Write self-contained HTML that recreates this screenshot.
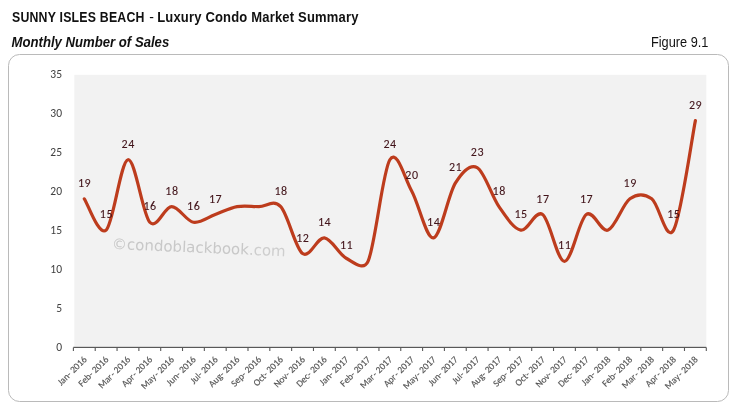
<!DOCTYPE html>
<html><head><meta charset="utf-8"><style>
html,body{margin:0;padding:0;background:#fff;width:738px;height:409px;overflow:hidden}
svg{display:block}
.t{font-family:"Liberation Sans",Arial,sans-serif;fill:#111}
.c{font-family:Carlito,"Liberation Sans",sans-serif;font-kerning:none}
</style></head><body>
<svg width="738" height="409" viewBox="0 0 738 409">
<text class="t" x="0" y="0" transform="translate(12.0 22) scale(0.88 1)" font-size="14" font-weight="bold" textLength="150.5" lengthAdjust="spacing">SUNNY ISLES BEACH</text>
<text class="t" x="149.2" y="22" font-size="14">-</text>
<text class="t" x="0" y="0" transform="translate(157.2 22) scale(0.93 1)" font-size="14" font-weight="bold" textLength="216.4" lengthAdjust="spacing">Luxury Condo Market Summary</text>
<text class="t" x="0" y="0" transform="translate(11.6 47) scale(0.94 1)" font-size="14" font-weight="bold" font-style="italic" textLength="167.7" lengthAdjust="spacing">Monthly Number of Sales</text>
<text class="t" x="0" y="0" transform="translate(651 47) scale(0.9 1)" font-size="14.2" textLength="63.8" lengthAdjust="spacing">Figure 9.1</text>
<rect x="8.5" y="54.5" width="720" height="347" rx="11" ry="11" fill="#fff" stroke="#bababa" stroke-width="1"/>
<rect x="74.3" y="74.8" width="632" height="271.2" fill="#f2f2f2"/>

<text class="c" x="62" y="351.2" font-size="11.5" fill="#404040" text-anchor="end">0</text>
<text class="c" x="62" y="312.1" font-size="11.5" fill="#404040" text-anchor="end">5</text>
<text class="c" x="62" y="273.0" font-size="11.5" fill="#404040" text-anchor="end">10</text>
<text class="c" x="62" y="233.9" font-size="11.5" fill="#404040" text-anchor="end">15</text>
<text class="c" x="62" y="194.8" font-size="11.5" fill="#404040" text-anchor="end">20</text>
<text class="c" x="62" y="155.7" font-size="11.5" fill="#404040" text-anchor="end">25</text>
<text class="c" x="62" y="116.6" font-size="11.5" fill="#404040" text-anchor="end">30</text>
<text class="c" x="62" y="77.5" font-size="11.5" fill="#404040" text-anchor="end">35</text>
<text x="111.8" y="249" font-family="DejaVu Sans,Verdana,sans-serif" font-size="15" fill="#c8c8c8" transform="rotate(2.4 112 249)">©condoblackbook<tspan fill="#cecece">.com</tspan></text>
<path d="M73.4,347.4H706.3" stroke="#595959" stroke-width="1.3"/>
<path d="M73.40,347.4V351M95.22,347.4V351M117.05,347.4V351M138.87,347.4V351M160.70,347.4V351M182.52,347.4V351M204.34,347.4V351M226.17,347.4V351M247.99,347.4V351M269.82,347.4V351M291.64,347.4V351M313.47,347.4V351M335.29,347.4V351M357.11,347.4V351M378.94,347.4V351M400.76,347.4V351M422.59,347.4V351M444.41,347.4V351M466.23,347.4V351M488.06,347.4V351M509.88,347.4V351M531.71,347.4V351M553.53,347.4V351M575.36,347.4V351M597.18,347.4V351M619.00,347.4V351M640.83,347.4V351M662.65,347.4V351M684.48,347.4V351M706.30,347.4V351" stroke="#595959" stroke-width="1.1"/>
<path d="M84.31,198.82 C87.95,204.03 98.86,236.62 106.14,230.10 C113.41,223.58 120.69,161.02 127.96,159.72 C135.24,158.42 142.51,214.46 149.78,222.28 C157.06,230.10 164.33,206.64 171.61,206.64 C178.88,206.64 186.16,220.98 193.43,222.28 C200.71,223.58 207.98,217.07 215.26,214.46 C222.53,211.85 229.81,207.94 237.08,206.64 C244.36,205.34 251.63,206.64 258.91,206.64 C266.18,206.64 273.45,198.82 280.73,206.64 C288.00,214.46 295.28,248.35 302.55,253.56 C309.83,258.77 317.10,237.14 324.38,237.92 C331.65,238.70 338.93,254.34 346.20,258.25 C353.48,262.16 363.56,271.46 368.03,261.38 C375.30,244.96 382.58,171.45 389.85,159.72 C397.12,147.99 404.40,177.97 411.67,191.00 C418.95,204.03 426.22,239.22 433.50,237.92 C440.77,236.62 448.05,194.91 455.32,183.18 C462.40,171.77 469.87,163.63 477.15,167.54 C484.42,171.45 491.70,196.21 498.97,206.64 C506.25,217.07 513.52,228.80 520.79,230.10 C528.07,231.40 535.34,209.25 542.62,214.46 C549.89,219.67 557.17,261.38 564.44,261.38 C571.72,261.38 578.99,219.67 586.27,214.46 C593.54,209.25 600.82,232.71 608.09,230.10 C615.37,227.49 622.64,204.03 629.92,198.82 C637.19,193.61 644.46,193.61 651.74,198.82 C659.01,204.03 666.29,243.13 673.56,230.10 C680.84,217.07 691.75,138.87 695.39,120.62" fill="none" stroke="#bd3c1d" stroke-width="3.2" stroke-linecap="round" stroke-linejoin="round"/>
<text class="c" x="84.6" y="186.8" font-size="12" fill="#42141a" stroke="#42141a" stroke-width="0.1" letter-spacing="0.5" text-anchor="middle">19</text>
<text class="c" x="106.4" y="218.1" font-size="12" fill="#42141a" stroke="#42141a" stroke-width="0.1" letter-spacing="0.5" text-anchor="middle">15</text>
<text class="c" x="128.2" y="147.7" font-size="12" fill="#42141a" stroke="#42141a" stroke-width="0.1" letter-spacing="0.5" text-anchor="middle">24</text>
<text class="c" x="150.0" y="210.3" font-size="12" fill="#42141a" stroke="#42141a" stroke-width="0.1" letter-spacing="0.5" text-anchor="middle">16</text>
<text class="c" x="171.9" y="194.6" font-size="12" fill="#42141a" stroke="#42141a" stroke-width="0.1" letter-spacing="0.5" text-anchor="middle">18</text>
<text class="c" x="193.7" y="210.3" font-size="12" fill="#42141a" stroke="#42141a" stroke-width="0.1" letter-spacing="0.5" text-anchor="middle">16</text>
<text class="c" x="215.5" y="202.5" font-size="12" fill="#42141a" stroke="#42141a" stroke-width="0.1" letter-spacing="0.5" text-anchor="middle">17</text>
<text class="c" x="281.0" y="194.6" font-size="12" fill="#42141a" stroke="#42141a" stroke-width="0.1" letter-spacing="0.5" text-anchor="middle">18</text>
<text class="c" x="302.8" y="241.6" font-size="12" fill="#42141a" stroke="#42141a" stroke-width="0.1" letter-spacing="0.5" text-anchor="middle">12</text>
<text class="c" x="324.6" y="225.9" font-size="12" fill="#42141a" stroke="#42141a" stroke-width="0.1" letter-spacing="0.5" text-anchor="middle">14</text>
<text class="c" x="346.5" y="249.4" font-size="12" fill="#42141a" stroke="#42141a" stroke-width="0.1" letter-spacing="0.5" text-anchor="middle">11</text>
<text class="c" x="390.1" y="147.7" font-size="12" fill="#42141a" stroke="#42141a" stroke-width="0.1" letter-spacing="0.5" text-anchor="middle">24</text>
<text class="c" x="411.9" y="179.0" font-size="12" fill="#42141a" stroke="#42141a" stroke-width="0.1" letter-spacing="0.5" text-anchor="middle">20</text>
<text class="c" x="433.7" y="225.9" font-size="12" fill="#42141a" stroke="#42141a" stroke-width="0.1" letter-spacing="0.5" text-anchor="middle">14</text>
<text class="c" x="455.6" y="171.2" font-size="12" fill="#42141a" stroke="#42141a" stroke-width="0.1" letter-spacing="0.5" text-anchor="middle">21</text>
<text class="c" x="477.4" y="155.5" font-size="12" fill="#42141a" stroke="#42141a" stroke-width="0.1" letter-spacing="0.5" text-anchor="middle">23</text>
<text class="c" x="499.2" y="194.6" font-size="12" fill="#42141a" stroke="#42141a" stroke-width="0.1" letter-spacing="0.5" text-anchor="middle">18</text>
<text class="c" x="521.0" y="218.1" font-size="12" fill="#42141a" stroke="#42141a" stroke-width="0.1" letter-spacing="0.5" text-anchor="middle">15</text>
<text class="c" x="542.9" y="202.5" font-size="12" fill="#42141a" stroke="#42141a" stroke-width="0.1" letter-spacing="0.5" text-anchor="middle">17</text>
<text class="c" x="564.7" y="249.4" font-size="12" fill="#42141a" stroke="#42141a" stroke-width="0.1" letter-spacing="0.5" text-anchor="middle">11</text>
<text class="c" x="586.5" y="202.5" font-size="12" fill="#42141a" stroke="#42141a" stroke-width="0.1" letter-spacing="0.5" text-anchor="middle">17</text>
<text class="c" x="630.2" y="186.8" font-size="12" fill="#42141a" stroke="#42141a" stroke-width="0.1" letter-spacing="0.5" text-anchor="middle">19</text>
<text class="c" x="673.8" y="218.1" font-size="12" fill="#42141a" stroke="#42141a" stroke-width="0.1" letter-spacing="0.5" text-anchor="middle">15</text>
<text class="c" x="695.6" y="108.6" font-size="12" fill="#42141a" stroke="#42141a" stroke-width="0.1" letter-spacing="0.5" text-anchor="middle">29</text>
<text class="c" x="0" y="0" font-size="9.5" fill="#555" stroke="#555" stroke-width="0.15" text-anchor="end" transform="translate(87.3,360.0) rotate(-45)">Jan- 2016</text>
<text class="c" x="0" y="0" font-size="9.5" fill="#555" stroke="#555" stroke-width="0.15" text-anchor="end" transform="translate(109.1,360.0) rotate(-45)">Feb- 2016</text>
<text class="c" x="0" y="0" font-size="9.5" fill="#555" stroke="#555" stroke-width="0.15" text-anchor="end" transform="translate(131.0,360.0) rotate(-45)">Mar<tspan dx="0.8">-</tspan> 2016</text>
<text class="c" x="0" y="0" font-size="9.5" fill="#555" stroke="#555" stroke-width="0.15" text-anchor="end" transform="translate(152.8,360.0) rotate(-45)">Apr<tspan dx="0.8">-</tspan> 2016</text>
<text class="c" x="0" y="0" font-size="9.5" fill="#555" stroke="#555" stroke-width="0.15" text-anchor="end" transform="translate(174.6,360.0) rotate(-45)">May<tspan dx="0.8">-</tspan> 2016</text>
<text class="c" x="0" y="0" font-size="9.5" fill="#555" stroke="#555" stroke-width="0.15" text-anchor="end" transform="translate(196.4,360.0) rotate(-45)">Jun- 2016</text>
<text class="c" x="0" y="0" font-size="9.5" fill="#555" stroke="#555" stroke-width="0.15" text-anchor="end" transform="translate(218.3,360.0) rotate(-45)">Jul- 2016</text>
<text class="c" x="0" y="0" font-size="9.5" fill="#555" stroke="#555" stroke-width="0.15" text-anchor="end" transform="translate(240.1,360.0) rotate(-45)">Aug- 2016</text>
<text class="c" x="0" y="0" font-size="9.5" fill="#555" stroke="#555" stroke-width="0.15" text-anchor="end" transform="translate(261.9,360.0) rotate(-45)">Sep- 2016</text>
<text class="c" x="0" y="0" font-size="9.5" fill="#555" stroke="#555" stroke-width="0.15" text-anchor="end" transform="translate(283.7,360.0) rotate(-45)">Oct- 2016</text>
<text class="c" x="0" y="0" font-size="9.5" fill="#555" stroke="#555" stroke-width="0.15" text-anchor="end" transform="translate(305.6,360.0) rotate(-45)">Nov- 2016</text>
<text class="c" x="0" y="0" font-size="9.5" fill="#555" stroke="#555" stroke-width="0.15" text-anchor="end" transform="translate(327.4,360.0) rotate(-45)">Dec- 2016</text>
<text class="c" x="0" y="0" font-size="9.5" fill="#555" stroke="#555" stroke-width="0.15" text-anchor="end" transform="translate(349.2,360.0) rotate(-45)">Jan- 2017</text>
<text class="c" x="0" y="0" font-size="9.5" fill="#555" stroke="#555" stroke-width="0.15" text-anchor="end" transform="translate(371.0,360.0) rotate(-45)">Feb- 2017</text>
<text class="c" x="0" y="0" font-size="9.5" fill="#555" stroke="#555" stroke-width="0.15" text-anchor="end" transform="translate(392.9,360.0) rotate(-45)">Mar<tspan dx="0.8">-</tspan> 2017</text>
<text class="c" x="0" y="0" font-size="9.5" fill="#555" stroke="#555" stroke-width="0.15" text-anchor="end" transform="translate(414.7,360.0) rotate(-45)">Apr<tspan dx="0.8">-</tspan> 2017</text>
<text class="c" x="0" y="0" font-size="9.5" fill="#555" stroke="#555" stroke-width="0.15" text-anchor="end" transform="translate(436.5,360.0) rotate(-45)">May<tspan dx="0.8">-</tspan> 2017</text>
<text class="c" x="0" y="0" font-size="9.5" fill="#555" stroke="#555" stroke-width="0.15" text-anchor="end" transform="translate(458.3,360.0) rotate(-45)">Jun- 2017</text>
<text class="c" x="0" y="0" font-size="9.5" fill="#555" stroke="#555" stroke-width="0.15" text-anchor="end" transform="translate(480.1,360.0) rotate(-45)">Jul- 2017</text>
<text class="c" x="0" y="0" font-size="9.5" fill="#555" stroke="#555" stroke-width="0.15" text-anchor="end" transform="translate(502.0,360.0) rotate(-45)">Aug- 2017</text>
<text class="c" x="0" y="0" font-size="9.5" fill="#555" stroke="#555" stroke-width="0.15" text-anchor="end" transform="translate(523.8,360.0) rotate(-45)">Sep- 2017</text>
<text class="c" x="0" y="0" font-size="9.5" fill="#555" stroke="#555" stroke-width="0.15" text-anchor="end" transform="translate(545.6,360.0) rotate(-45)">Oct- 2017</text>
<text class="c" x="0" y="0" font-size="9.5" fill="#555" stroke="#555" stroke-width="0.15" text-anchor="end" transform="translate(567.4,360.0) rotate(-45)">Nov- 2017</text>
<text class="c" x="0" y="0" font-size="9.5" fill="#555" stroke="#555" stroke-width="0.15" text-anchor="end" transform="translate(589.3,360.0) rotate(-45)">Dec- 2017</text>
<text class="c" x="0" y="0" font-size="9.5" fill="#555" stroke="#555" stroke-width="0.15" text-anchor="end" transform="translate(611.1,360.0) rotate(-45)">Jan- 2018</text>
<text class="c" x="0" y="0" font-size="9.5" fill="#555" stroke="#555" stroke-width="0.15" text-anchor="end" transform="translate(632.9,360.0) rotate(-45)">Feb- 2018</text>
<text class="c" x="0" y="0" font-size="9.5" fill="#555" stroke="#555" stroke-width="0.15" text-anchor="end" transform="translate(654.7,360.0) rotate(-45)">Mar<tspan dx="0.8">-</tspan> 2018</text>
<text class="c" x="0" y="0" font-size="9.5" fill="#555" stroke="#555" stroke-width="0.15" text-anchor="end" transform="translate(676.6,360.0) rotate(-45)">Apr<tspan dx="0.8">-</tspan> 2018</text>
<text class="c" x="0" y="0" font-size="9.5" fill="#555" stroke="#555" stroke-width="0.15" text-anchor="end" transform="translate(698.4,360.0) rotate(-45)">May<tspan dx="0.8">-</tspan> 2018</text>
</svg></body></html>
